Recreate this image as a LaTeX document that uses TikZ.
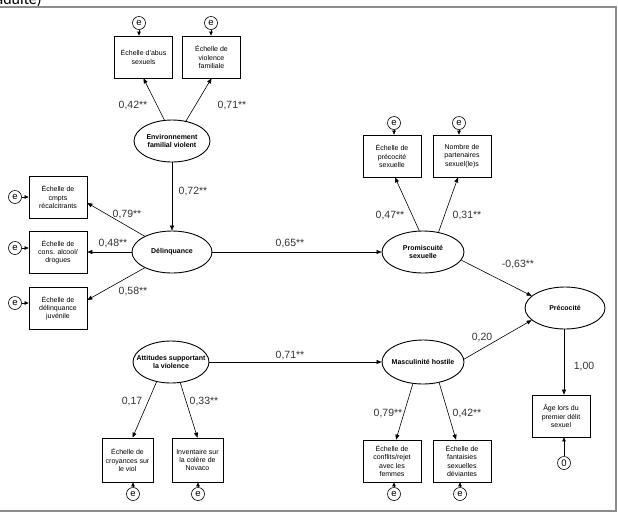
\documentclass[tikz,border=0pt]{standalone}
\usepackage{fontspec}
\setmainfont{Liberation Sans}
\newfontfamily\captionfont{Carlito}
\usetikzlibrary{shapes.geometric,arrows.meta}

\begin{document}
\begin{tikzpicture}[x=1pt,y=-1pt,
        box/.style={draw,line width=0.7pt,minimum width=58pt,minimum height=42pt,inner sep=1pt,
            align=center,font=\fontsize{7}{8.3}\selectfont},
        smallbox/.style={box,minimum width=51pt,minimum height=44pt},
        latent/.style={draw,ellipse,line width=0.9pt,minimum width=80pt,minimum height=42pt,
            inner sep=0pt,align=center,font=\fontsize{7}{8.3}\selectfont\bfseries},
        err/.style={draw,circle,line width=0.6pt,minimum size=13pt,inner sep=0pt,
            font=\fontsize{9.5}{10}\selectfont},
        coef/.style={font=\fontsize{10.5}{12}\selectfont,text=black!80,inner sep=0pt},
        path/.style={-{Triangle[length=5pt,width=4pt]},line width=0.6pt},
        errpath/.style={-{Triangle[length=4pt,width=3.5pt]},line width=0.6pt},
        frame/.style={draw=black!45,line width=1.8pt}]

        \useasboundingbox (0,0) rectangle (618,515);
        \draw[frame] (0,7) -- (616,7) -- (616,511) -- (0,511);
        \node[anchor=base east,inner sep=0pt,font=\captionfont\fontsize{16}{18}\selectfont] (titre) at (42,4) {(traduite)};

        % latent variables
        \node[latent,minimum width=76pt] (env) at (172,141) {Environnement\\familial violent};
        \node[latent] (del) at (172,252) {Délinquance};
        \node[latent,minimum width=82pt] (prom) at (423,252) {Promiscuité\\sexuelle};
        \node[latent] (preco) at (565,308) {Précocité};
        \node[latent,minimum width=76pt,inner xsep=-10pt] (att) at (171,362) {Attitudes supportant\\la violence};
        \node[latent,minimum width=82pt,minimum height=44pt,inner xsep=-5pt] (masc) at (423,362) {Masculinité hostile};

        % indicators
        \node[box] (abus) at (143.5,57) {Échelle d'abus\\sexuels};
        \node[box] (viofam) at (211.5,57) {Échelle de\\violence\\familiale};
        \node[box] (cmpts) at (58,197) {Échelle de\\cmpts\\récalcitrants};
        \node[box] (alcool) at (58,252) {Échelle de\\cons. alcool/\\drogues};
        \node[box] (juv) at (58,308) {Échelle de\\délinquance\\juvénile};
        \node[box] (precsex) at (392,156) {Échelle de\\précocité\\sexuelle};
        \node[box] (partn) at (462,156) {Nombre de\\partenaires\\sexuel(le)s};
        \node[box] (age) at (561,416) {Âge lors du\\premier délit\\sexuel};
        \node[box] (conflit) at (392,461) {Échelle de\\conflits/rejet\\avec les\\femmes};
        \node[box] (fantas) at (462,461) {Échelle de\\fantaisies\\sexuelles\\déviantes};
        \node[smallbox] (croy) at (127.5,460) {Échelle de\\croyances sur\\le viol};
        \node[smallbox] (novaco) at (197.5,460) {Inventaire sur\\la colère de\\Novaco};

        % errors
        \node[err] (e1) at (139,23) {e};
        \node[err] (e2) at (211,23) {e};
        \node[err] (e3) at (15,197) {e};
        \node[err] (e4) at (15,248) {e};
        \node[err] (e5) at (15,303) {e};
        \node[err] (e6) at (394,123) {e};
        \node[err] (e7) at (459,123) {e};
        \node[err] (e8) at (394,494) {e};
        \node[err] (e9) at (460,494) {e};
        \node[err] (e10) at (133,494) {e};
        \node[err] (e11) at (198,494) {e};
        \node[err] (zero) at (564,463) {0};

        \draw[errpath] (e1) -- (e1 |- abus.north);
        \draw[errpath] (e2) -- (e2 |- viofam.north);
        \draw[errpath] (e3) -- (e3 -| cmpts.west);
        \draw[errpath] (e4) -- (e4 -| alcool.west);
        \draw[errpath] (e5) -- (e5 -| juv.west);
        \draw[errpath] (e6) -- (e6 |- precsex.north);
        \draw[errpath] (e7) -- (e7 |- partn.north);
        \draw[errpath] (e8) -- (e8 |- conflit.south);
        \draw[errpath] (e9) -- (e9 |- fantas.south);
        \draw[errpath] (e10) -- (e10 |- croy.south);
        \draw[errpath] (e11) -- (e11 |- novaco.south);
        \draw[errpath] (zero) -- (zero |- age.south);

        % paths
        \draw[path] (env.110) -- (abus.south);
        \draw[path] (env.55) -- (viofam.south);
        \draw[path] (env.south) -- (del.north);
        \draw[path] (del.150) -- ([yshift=-6pt]cmpts.east);
        \draw[path] (del.west) -- (alcool.east);
        \draw[path] (del.210) -- ([yshift=8pt]juv.east);
        \draw[path] (del.east) -- (prom.west);
        \draw[path] (prom.100) -- ([xshift=3pt]precsex.south);
        \draw[path] (prom.52) -- ([xshift=-4pt]partn.south);
        \draw[path] (prom.-12) -- (preco.160);
        \draw[path] (att.east) -- (masc.west);
        \draw[path] (masc.4) -- (preco.200);
        \draw[path] (preco.south -| zero) -- (zero |- age.north);
        \draw[path] (att.-126) -- ([xshift=5pt]croy.north);
        \draw[path] (att.-66) -- (novaco.north);
        \draw[path] (masc.-115) -- ([xshift=4pt]conflit.north);
        \draw[path] (masc.-52) -- ([xshift=-6pt]fantas.north);

        % coefficients
        \node[coef] (k1) at (133,106) {0,42**};
        \node[coef] (k2) at (232,106) {0,71**};
        \node[coef] (k3) at (193,191) {0,72**};
        \node[coef] (k4) at (127,214) {0,79**};
        \node[coef] (k5) at (113,243) {0,48**};
        \node[coef] (k6) at (133,291) {0,58**};
        \node[coef] (k7) at (290,243) {0,65**};
        \node[coef] (k8) at (390,215) {0,47**};
        \node[coef] (k9) at (467,215) {0,31**};
        \node[coef] (k10) at (518,264) {-0,63**};
        \node[coef] (k11) at (482,337) {0,20};
        \node[coef] (k12) at (584,366) {1,00};
        \node[coef] (k13) at (290,355) {0,71**};
        \node[coef] (k14) at (132,401) {0,17};
        \node[coef] (k15) at (204,401) {0,33**};
        \node[coef] (k16) at (388,413) {0,79**};
        \node[coef] (k17) at (467,413) {0,42**};
\end{tikzpicture}
\end{document}
